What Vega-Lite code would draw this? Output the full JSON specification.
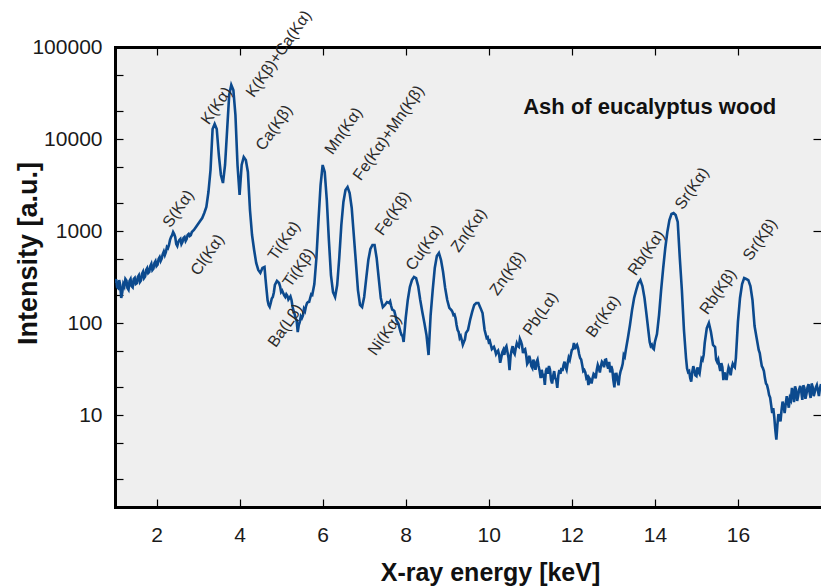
{
  "$schema": "https://vega.github.io/schema/vega-lite/v6.json",
  "width": 706,
  "height": 460,
  "autosize": {"type": "none"},
  "padding": {"left": 115, "top": 47, "right": 0, "bottom": 80},
  "background": "white",
  "config": {
    "view": {"stroke": null, "fill": "#efefef"},
    "font": "Liberation Sans",
    "axis": {"grid": false, "labelOverlap": false, "labelFlush": false}
  },
  "datasets": {
    "spectrum": [
      {"e":1.00,"i":272},{"e":1.05,"i":246},{"e":1.10,"i":293},{"e":1.15,"i":187},{"e":1.20,"i":265},
      {"e":1.25,"i":301},{"e":1.30,"i":240},{"e":1.35,"i":286},{"e":1.40,"i":252},{"e":1.45,"i":301},
      {"e":1.50,"i":265},{"e":1.55,"i":316},{"e":1.60,"i":279},{"e":1.65,"i":341},{"e":1.70,"i":308},
      {"e":1.75,"i":377},{"e":1.80,"i":350},{"e":1.85,"i":416},{"e":1.90,"i":377},{"e":1.95,"i":449},
      {"e":2.00,"i":416},{"e":2.05,"i":496},{"e":2.10,"i":472},{"e":2.15,"i":562},{"e":2.20,"i":548},
      {"e":2.25,"i":670},{"e":2.30,"i":704},{"e":2.35,"i":860},{"e":2.40,"i":975},{"e":2.45,"i":860},
      {"e":2.50,"i":687},{"e":2.55,"i":798},{"e":2.60,"i":722},{"e":2.65,"i":839},{"e":2.70,"i":779},
      {"e":2.75,"i":905},{"e":2.80,"i":882},{"e":2.85,"i":975},{"e":2.90,"i":1025},{"e":2.95,"i":1105},
      {"e":3.00,"i":1191},{"e":3.05,"i":1284},{"e":3.10,"i":1384},{"e":3.15,"i":1569},{"e":3.20,"i":1823},
      {"e":3.25,"i":2654},{"e":3.30,"i":4603},{"e":3.35,"i":12840},{"e":3.40,"i":14560},{"e":3.45,"i":12840},
      {"e":3.50,"i":6700},{"e":3.55,"i":4061},{"e":3.60,"i":3325},{"e":3.65,"i":5216},{"e":3.70,"i":12530},
      {"e":3.75,"i":30070},{"e":3.80,"i":38630},{"e":3.85,"i":34090},{"e":3.90,"i":18230},{"e":3.95,"i":5216},
      {"e":4.00,"i":2462},{"e":4.05,"i":5216},{"e":4.10,"i":6373},{"e":4.15,"i":5912},{"e":4.20,"i":4378},
      {"e":4.25,"i":1691},{"e":4.30,"i":905},{"e":4.35,"i":622},{"e":4.40,"i":449},{"e":4.45,"i":377},
      {"e":4.50,"i":350},{"e":4.55,"i":396},{"e":4.60,"i":406},{"e":4.65,"i":228},{"e":4.70,"i":157},
      {"e":4.75,"i":165},{"e":4.80,"i":192},{"e":4.85,"i":259},{"e":4.90,"i":286},{"e":4.95,"i":272},
      {"e":5.00,"i":217},{"e":5.05,"i":212},{"e":5.10,"i":192},{"e":5.15,"i":197},{"e":5.20,"i":187},
      {"e":5.25,"i":178},{"e":5.30,"i":135},{"e":5.35,"i":113},{"e":5.40,"i":79.8},{"e":5.45,"i":103},
      {"e":5.50,"i":113},{"e":5.55,"i":142},{"e":5.60,"i":153},{"e":5.65,"i":169},{"e":5.70,"i":187},
      {"e":5.75,"i":202},{"e":5.80,"i":265},{"e":5.85,"i":509},{"e":5.90,"i":1317},{"e":5.95,"i":3162},
      {"e":6.00,"i":5216},{"e":6.05,"i":4378},{"e":6.10,"i":2172},{"e":6.15,"i":798},{"e":6.20,"i":332},
      {"e":6.25,"i":217},{"e":6.30,"i":192},{"e":6.35,"i":259},{"e":6.40,"i":509},{"e":6.45,"i":1162},
      {"e":6.50,"i":2066},{"e":6.55,"i":2790},{"e":6.60,"i":3007},{"e":6.65,"i":2588},{"e":6.70,"i":1778},
      {"e":6.75,"i":905},{"e":6.80,"i":460},{"e":6.85,"i":228},{"e":6.90,"i":157},{"e":6.95,"i":149},
      {"e":7.00,"i":192},{"e":7.05,"i":308},{"e":7.10,"i":484},{"e":7.15,"i":637},{"e":7.20,"i":704},
      {"e":7.25,"i":704},{"e":7.30,"i":509},{"e":7.35,"i":308},{"e":7.40,"i":187},{"e":7.45,"i":149},
      {"e":7.50,"i":157},{"e":7.55,"i":169},{"e":7.60,"i":165},{"e":7.65,"i":153},{"e":7.70,"i":138},
      {"e":7.75,"i":122},{"e":7.80,"i":103},{"e":7.85,"i":88.2},{"e":7.90,"i":74.1},{"e":7.95,"i":62.2},
      {"e":8.00,"i":113},{"e":8.05,"i":178},{"e":8.10,"i":246},{"e":8.15,"i":293},{"e":8.20,"i":316},
      {"e":8.25,"i":308},{"e":8.30,"i":252},{"e":8.35,"i":178},{"e":8.40,"i":132},{"e":8.45,"i":100},
      {"e":8.50,"i":74.1},{"e":8.55,"i":44.9},{"e":8.60,"i":122},{"e":8.65,"i":228},{"e":8.70,"i":396},
      {"e":8.75,"i":535},{"e":8.80,"i":577},{"e":8.85,"i":484},{"e":8.90,"i":358},{"e":8.95,"i":240},
      {"e":9.00,"i":178},{"e":9.05,"i":146},{"e":9.10,"i":138},{"e":9.15,"i":122},{"e":9.20,"i":113},
      {"e":9.25,"i":83.9},{"e":9.30,"i":68.7},{"e":9.35,"i":65.3},{"e":9.40,"i":62.2},{"e":9.45,"i":77.9},
      {"e":9.50,"i":83.9},{"e":9.55,"i":108},{"e":9.60,"i":132},{"e":9.65,"i":157},{"e":9.70,"i":165},
      {"e":9.75,"i":165},{"e":9.80,"i":146},{"e":9.85,"i":128},{"e":9.90,"i":83.9},{"e":9.95,"i":68.7},
      {"e":10.00,"i":62.2},{"e":10.05,"i":57.7},{"e":10.10,"i":53.5},{"e":10.15,"i":50.9},{"e":10.20,"i":48.4},
      {"e":10.25,"i":44.9},{"e":10.30,"i":41.6},{"e":10.35,"i":50.9},{"e":10.40,"i":53.5},{"e":10.45,"i":48.4},
      {"e":10.50,"i":30.8},{"e":10.55,"i":50.9},{"e":10.60,"i":48.4},{"e":10.65,"i":53.5},{"e":10.70,"i":56.2},
      {"e":10.75,"i":67.0},{"e":10.80,"i":57.7},{"e":10.85,"i":50.9},{"e":10.90,"i":44.9},{"e":10.95,"i":37.7},
      {"e":11.00,"i":39.6},{"e":11.05,"i":32.4},{"e":11.10,"i":35.0},{"e":11.15,"i":37.7},{"e":11.20,"i":34.1},
      {"e":11.25,"i":25.2},{"e":11.30,"i":26.5},{"e":11.35,"i":21.2},{"e":11.40,"i":32.4},{"e":11.45,"i":34.1},
      {"e":11.50,"i":24.0},{"e":11.55,"i":26.5},{"e":11.60,"i":25.2},{"e":11.65,"i":19.7},{"e":11.70,"i":30.8},
      {"e":11.75,"i":32.4},{"e":11.80,"i":35.0},{"e":11.85,"i":33.2},{"e":11.90,"i":36.7},{"e":11.95,"i":39.6},
      {"e":12.00,"i":50.9},{"e":12.05,"i":60.6},{"e":12.10,"i":56.2},{"e":12.15,"i":53.5},{"e":12.20,"i":41.6},
      {"e":12.25,"i":35.0},{"e":12.30,"i":30.8},{"e":12.35,"i":25.2},{"e":12.40,"i":21.2},{"e":12.45,"i":24.0},
      {"e":12.50,"i":25.2},{"e":12.55,"i":27.2},{"e":12.60,"i":30.8},{"e":12.65,"i":32.4},{"e":12.70,"i":34.1},
      {"e":12.75,"i":36.7},{"e":12.80,"i":39.6},{"e":12.85,"i":35.0},{"e":12.90,"i":37.7},{"e":12.95,"i":34.1},
      {"e":13.00,"i":24.0},{"e":13.05,"i":27.9},{"e":13.10,"i":24.0},{"e":13.15,"i":26.5},{"e":13.20,"i":32.4},
      {"e":13.25,"i":44.9},{"e":13.30,"i":50.9},{"e":13.35,"i":68.7},{"e":13.40,"i":95.1},{"e":13.45,"i":138},
      {"e":13.50,"i":187},{"e":13.55,"i":228},{"e":13.60,"i":272},{"e":13.65,"i":293},{"e":13.70,"i":252},
      {"e":13.75,"i":187},{"e":13.80,"i":122},{"e":13.85,"i":77.9},{"e":13.90,"i":56.2},{"e":13.95,"i":53.5},
      {"e":14.00,"i":62.2},{"e":14.05,"i":75.9},{"e":14.10,"i":122},{"e":14.15,"i":228},{"e":14.20,"i":396},
      {"e":14.25,"i":653},{"e":14.30,"i":975},{"e":14.35,"i":1317},{"e":14.40,"i":1530},{"e":14.45,"i":1569},
      {"e":14.50,"i":1492},{"e":14.55,"i":1253},{"e":14.60,"i":509},{"e":14.65,"i":228},{"e":14.70,"i":83.9},
      {"e":14.75,"i":41.6},{"e":14.80,"i":29.3},{"e":14.85,"i":25.2},{"e":14.90,"i":29.3},{"e":14.95,"i":30.8},
      {"e":15.00,"i":26.5},{"e":15.05,"i":29.3},{"e":15.10,"i":34.1},{"e":15.15,"i":39.6},{"e":15.20,"i":60.6},
      {"e":15.25,"i":88.2},{"e":15.30,"i":100},{"e":15.35,"i":79.8},{"e":15.40,"i":57.7},{"e":15.45,"i":54.8},
      {"e":15.50,"i":37.7},{"e":15.55,"i":34.1},{"e":15.60,"i":36.7},{"e":15.65,"i":24.0},{"e":15.70,"i":26.5},
      {"e":15.75,"i":28.6},{"e":15.80,"i":30.8},{"e":15.85,"i":32.4},{"e":15.90,"i":34.1},{"e":15.95,"i":41.6},
      {"e":16.00,"i":103},{"e":16.05,"i":187},{"e":16.10,"i":265},{"e":16.15,"i":308},{"e":16.20,"i":301},
      {"e":16.25,"i":293},{"e":16.30,"i":252},{"e":16.35,"i":178},{"e":16.40,"i":92.8},{"e":16.45,"i":68.7},
      {"e":16.50,"i":50.9},{"e":16.55,"i":39.6},{"e":16.60,"i":32.4},{"e":16.65,"i":25.2},{"e":16.70,"i":21.2},
      {"e":16.75,"i":16.5},{"e":16.80,"i":12.8},{"e":16.85,"i":11.9},{"e":16.90,"i":6.87},{"e":16.95,"i":7.79},
      {"e":17.00,"i":9.28},{"e":17.05,"i":11.3},{"e":17.10,"i":12.5},{"e":17.15,"i":13.2},{"e":17.20,"i":13.8},
      {"e":17.25,"i":15.3},{"e":17.30,"i":19.7},{"e":17.35,"i":13.8},{"e":17.40,"i":18.7},{"e":17.45,"i":16.1},
      {"e":17.50,"i":20.7},{"e":17.55,"i":14.6},{"e":17.60,"i":19.7},{"e":17.65,"i":16.9},{"e":17.70,"i":21.7},
      {"e":17.75,"i":15.3},{"e":17.80,"i":20.2},{"e":17.85,"i":17.8},{"e":17.90,"i":21.2},{"e":17.95,"i":16.1},
      {"e":18.00,"i":21.7},

      {"e":1.025,"i":300},{"e":1.075,"i":240},{"e":1.125,"i":260},{"e":1.175,"i":215},{"e":1.225,"i":250},
      {"e":1.275,"i":290},{"e":1.325,"i":230},{"e":1.375,"i":300},{"e":1.425,"i":245},{"e":1.475,"i":310},
      {"e":1.525,"i":270},{"e":1.575,"i":330},{"e":1.625,"i":290},{"e":1.675,"i":360},{"e":1.725,"i":320},
      {"e":1.775,"i":395},{"e":1.825,"i":360},{"e":1.875,"i":440},{"e":1.925,"i":390},{"e":1.975,"i":470},
      {"e":2.025,"i":430},{"e":2.075,"i":520},{"e":2.125,"i":500},{"e":2.175,"i":600},{"e":2.225,"i":590},
      {"e":2.275,"i":650},{"e":2.325,"i":800},{"e":2.375,"i":900},{"e":2.425,"i":930},{"e":2.475,"i":720},
      {"e":2.525,"i":760},{"e":2.575,"i":820},{"e":2.625,"i":760},{"e":2.675,"i":860},{"e":2.725,"i":820},
      {"e":2.775,"i":930},{"e":2.825,"i":900},

      {"e":4.625,"i":300},{"e":4.675,"i":175},{"e":4.725,"i":150},{"e":4.775,"i":185},{"e":4.825,"i":215},
      {"e":4.975,"i":250},{"e":5.025,"i":225},{"e":5.075,"i":200},{"e":5.125,"i":205},{"e":5.175,"i":180},
      {"e":5.225,"i":195},{"e":5.275,"i":150},{"e":5.325,"i":125},{"e":5.375,"i":105},{"e":5.425,"i":95},
      {"e":5.475,"i":118},{"e":5.525,"i":120},{"e":5.575,"i":135},{"e":5.625,"i":165},{"e":5.675,"i":170},
      {"e":5.725,"i":205},

      {"e":7.625,"i":172},{"e":7.675,"i":140},{"e":7.725,"i":135},{"e":7.775,"i":108},{"e":7.825,"i":98},
      {"e":7.875,"i":80},{"e":7.925,"i":72},

      {"e":9.125,"i":132},{"e":9.175,"i":124},{"e":9.225,"i":95},{"e":9.275,"i":80},{"e":9.325,"i":72},
      {"e":9.375,"i":58},{"e":9.425,"i":66},

      {"e":9.975,"i":70},{"e":10.025,"i":64},{"e":10.075,"i":52},{"e":10.125,"i":55},{"e":10.175,"i":46},
      {"e":10.225,"i":50},{"e":10.275,"i":37},{"e":10.325,"i":48},{"e":10.375,"i":45},{"e":10.425,"i":56},
      {"e":10.475,"i":42},{"e":10.525,"i":44},{"e":10.575,"i":56},{"e":10.625,"i":46},{"e":10.675,"i":60},
      {"e":10.725,"i":55},{"e":10.775,"i":63},{"e":10.825,"i":47},{"e":10.875,"i":52},{"e":10.925,"i":36},
      {"e":10.975,"i":44},{"e":11.025,"i":34},{"e":11.075,"i":40},{"e":11.125,"i":31},{"e":11.175,"i":40},
      {"e":11.225,"i":30},{"e":11.275,"i":31},{"e":11.325,"i":27},{"e":11.375,"i":30},{"e":11.425,"i":28},
      {"e":11.475,"i":31},{"e":11.525,"i":22},{"e":11.575,"i":30},{"e":11.625,"i":24},{"e":11.675,"i":27},
      {"e":11.725,"i":28},{"e":11.775,"i":30},{"e":11.825,"i":38},{"e":11.875,"i":31},{"e":11.925,"i":42},
      {"e":11.975,"i":45},{"e":12.025,"i":52},{"e":12.075,"i":52},{"e":12.125,"i":58},{"e":12.175,"i":46},
      {"e":12.225,"i":40},{"e":12.275,"i":30},{"e":12.325,"i":29},{"e":12.375,"i":26},{"e":12.425,"i":25},
      {"e":12.475,"i":22},{"e":12.525,"i":28},{"e":12.575,"i":25},{"e":12.625,"i":35},{"e":12.675,"i":29},
      {"e":12.725,"i":38},{"e":12.775,"i":33},{"e":12.825,"i":40},{"e":12.875,"i":32},{"e":12.925,"i":29},
      {"e":12.975,"i":31},{"e":13.025,"i":20},{"e":13.075,"i":28},{"e":13.125,"i":21},{"e":13.175,"i":30},
      {"e":13.225,"i":36},{"e":13.275,"i":43},

      {"e":13.875,"i":62},{"e":13.925,"i":58},{"e":13.975,"i":52},

      {"e":14.775,"i":32},{"e":14.825,"i":30},{"e":14.875,"i":23},{"e":14.925,"i":34},{"e":14.975,"i":27},
      {"e":15.025,"i":33},{"e":15.075,"i":28},{"e":15.125,"i":41},{"e":15.175,"i":45},
      {"e":15.475,"i":40},{"e":15.525,"i":40},{"e":15.575,"i":30},{"e":15.625,"i":33},{"e":15.675,"i":29},
      {"e":15.725,"i":24},{"e":15.775,"i":33},{"e":15.825,"i":27},{"e":15.875,"i":36},{"e":15.925,"i":33},

      {"e":16.525,"i":47},{"e":16.575,"i":34},{"e":16.625,"i":30},{"e":16.675,"i":22},{"e":16.725,"i":19},
      {"e":16.775,"i":15.5},{"e":16.825,"i":10.5},{"e":16.875,"i":9.5},{"e":16.925,"i":5.4},{"e":16.975,"i":10.2},
      {"e":17.025,"i":8.5},{"e":17.075,"i":14},{"e":17.125,"i":10.5},{"e":17.175,"i":16},{"e":17.225,"i":12},
      {"e":17.275,"i":14.5},{"e":17.325,"i":17},{"e":17.375,"i":20.5},{"e":17.425,"i":14.2},{"e":17.475,"i":19},
      {"e":17.525,"i":18},{"e":17.575,"i":21},{"e":17.625,"i":15},{"e":17.675,"i":20},{"e":17.725,"i":17.5},
      {"e":17.775,"i":22},{"e":17.825,"i":16},{"e":17.875,"i":20},{"e":17.925,"i":18.5},{"e":17.975,"i":19.5}
    ],
    "peaks": [
      {"label":"S(Kα)","e":2.24,"i":1147},
      {"label":"Cl(Kα)","e":2.91,"i":345},
      {"label":"K(Kα)","e":3.16,"i":15100},
      {"label":"K(Kβ)+Ca(Kα)","e":4.24,"i":29700},
      {"label":"Ca(Kβ)","e":4.48,"i":7880},
      {"label":"Ti(Kα)","e":4.77,"i":502},
      {"label":"Ti(Kβ)","e":5.13,"i":256},
      {"label":"Ba(Lβ)","e":4.77,"i":57},
      {"label":"Mn(Kα)","e":6.14,"i":7130},
      {"label":"Fe(Kα)+Mn(Kβ)","e":6.82,"i":3720},
      {"label":"Fe(Kβ)","e":7.35,"i":939},
      {"label":"Ni(Kα)","e":7.18,"i":46.6},
      {"label":"Cu(Kα)","e":8.09,"i":391},
      {"label":"Zn(Kα)","e":9.18,"i":614},
      {"label":"Zn(Kβ)","e":10.11,"i":209},
      {"label":"Pb(Lα)","e":10.91,"i":76.9},
      {"label":"Br(Kα)","e":12.43,"i":73.1},
      {"label":"Rb(Kα)","e":13.44,"i":345},
      {"label":"Sr(Kα)","e":14.57,"i":1800},
      {"label":"Rb(Kβ)","e":15.17,"i":130},
      {"label":"Sr(Kβ)","e":16.21,"i":502}
    ],
    "note": [
      {"label":"Ash of eucalyptus wood","e":10.83,"i":22300}
    ]
  },
  "layer": [
    {
      "data": {"name": "spectrum"},
      "mark": {"type": "line", "color": "#0c4a8e", "strokeWidth": 2.6, "clip": true},
      "encoding": {
        "x": {
          "field": "e", "type": "quantitative",
          "scale": {"domain": [1, 18], "nice": false},
          "axis": {
            "orient": "bottom",
            "values": [2, 4, 6, 8, 10, 12, 14, 16],
            "tickSize": -8, "tickColor": "black", "tickWidth": 1.2,
            "domain": true, "domainColor": "black", "domainWidth": 3, "domainCap": "square",
            "labelFontSize": 21, "labelColor": "#1a1a1a", "labelPadding": 25,
            "title": "X-ray energy [keV]",
            "titleFontSize": 25, "titleFontWeight": "bold", "titleColor": "#111",
            "titleX": 375, "titleY": 65, "titleBaseline": "middle", "titleAnchor": "middle", "titleAlign": "center"
          }
        },
        "y": {
          "field": "i", "type": "quantitative",
          "scale": {"type": "log", "domain": [1, 100000], "nice": false},
          "axis": {
            "orient": "left",
            "values": [2, 5, 10, 20, 50, 100, 200, 500, 1000, 2000, 5000, 10000, 20000, 50000, 100000],
            "format": "d",
            "labelExpr": "indexof(['10','100','1000','10000','100000'], datum.label) >= 0 ? datum.label : ''",
            "tickSize": -8, "tickColor": "black", "tickWidth": 1.2,
            "domain": true, "domainColor": "black", "domainWidth": 3, "domainCap": "square",
            "labelFontSize": 21, "labelColor": "#1a1a1a", "labelPadding": 21,
            "title": "Intensity [a.u.]",
            "titleFontSize": 27, "titleFontWeight": "bold", "titleColor": "#111",
            "titleX": -87, "titleY": 206, "titleBaseline": "middle", "titleAlign": "center", "titleAngle": -90
          }
        }
      }
    },
    {
      "data": {"name": "peaks"},
      "mark": {"type": "text", "angle": -55, "align": "left", "baseline": "middle", "fontSize": 16, "color": "#2a2a2a"},
      "encoding": {
        "x": {
          "field": "e", "type": "quantitative",
          "axis": {
            "orient": "top", "values": [2, 4, 6, 8, 10, 12, 14, 16],
            "tickSize": -8, "tickColor": "black", "tickWidth": 1.2, "labels": false, "title": null,
            "domain": true, "domainColor": "black", "domainWidth": 3, "domainCap": "square"
          }
        },
        "y": {
          "field": "i", "type": "quantitative",
          "axis": {
            "orient": "right", "values": [10, 100, 1000, 10000],
            "tickSize": -8, "tickColor": "black", "tickWidth": 1.2, "labels": false, "title": null,
            "domain": false
          }
        },
        "text": {"field": "label"}
      }
    },
    {
      "data": {"name": "note"},
      "mark": {"type": "text", "align": "left", "baseline": "middle", "fontSize": 22, "fontWeight": "bold", "color": "#111"},
      "encoding": {
        "x": {"field": "e", "type": "quantitative", "axis": null},
        "y": {"field": "i", "type": "quantitative", "axis": null},
        "text": {"field": "label"}
      }
    }
  ],
  "resolve": {"axis": {"x": "independent", "y": "independent"}}
}
